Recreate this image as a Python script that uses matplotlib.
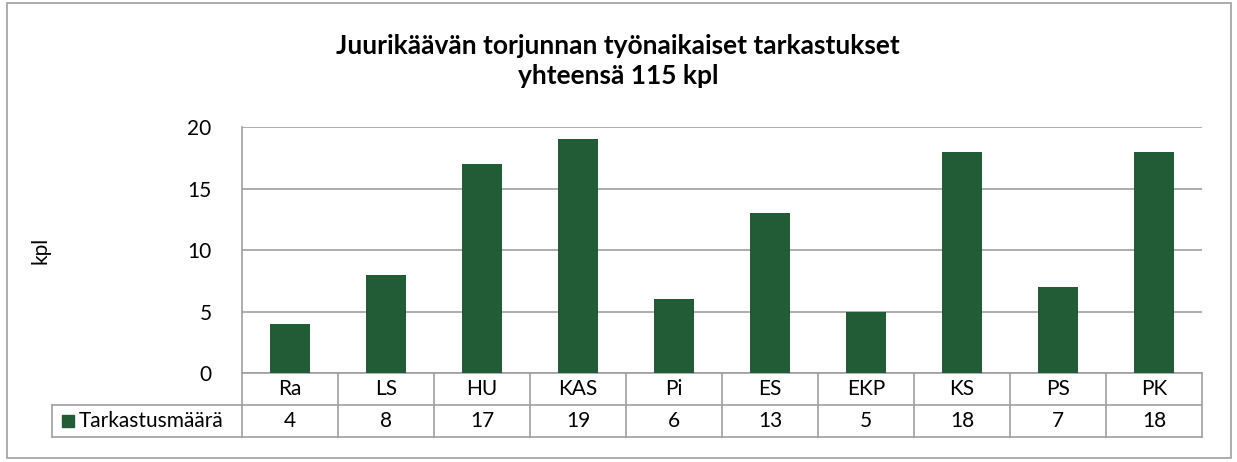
import matplotlib
matplotlib.use("Agg")
import matplotlib.pyplot as plt
from matplotlib.patches import Rectangle

# data
categories = ["Ra", "LS", "HU", "KAS", "Pi", "ES", "EKP", "KS", "PS", "PK"]
values = [4, 8, 17, 19, 6, 13, 5, 18, 7, 18]
series_name = "Tarkastusmäärä"
title = "Juurikäävän torjunnan työnaikaiset tarkastukset\nyhteensä 115 kpl"
y_ticks = [0, 5, 10, 15, 20]

plt.rcParams["font.family"] = ["Lato", "DejaVu Sans"]

W, H = 1237, 462
GRID = "#a0a0a0"
BAR = "#215c36"
FS = 15

fig = plt.figure(figsize=(W / 100, H / 100), dpi=100, facecolor="white")

# outer chart border
fig.add_artist(Rectangle((7 / W, 1 - 458 / H), (1231 - 7) / W, (458 - 3) / H,
                         transform=fig.transFigure, fill=False, edgecolor=GRID, lw=1.2))

left, right, top, bottom = 242, 1202, 127, 373
ax = fig.add_axes([left / W, 1 - bottom / H, (right - left) / W, (bottom - top) / H])

x = list(range(len(categories)))
ax.bar(x, values, width=0.41, color=BAR, zorder=3)
ax.set_xlim(-0.5, len(categories) - 0.5)
ax.set_ylim(0, 20)
ax.set_yticks(y_ticks)
ax.set_yticklabels([str(t) for t in y_ticks], fontsize=FS)
ax.tick_params(axis="y", length=0, pad=22)
ax.set_xticks([])
ax.yaxis.grid(True, color=GRID, lw=1.2, zorder=0)
ax.set_axisbelow(True)
for sp in ["top", "right"]:
    ax.spines[sp].set_visible(False)
for sp in ["left", "bottom"]:
    ax.spines[sp].set_color(GRID)
    ax.spines[sp].set_linewidth(1.2)

fig.text(40 / W, 1 - 250 / H, "kpl", rotation=90, ha="center", va="center", fontsize=FS)

# data table under the plot
tr = ax.get_xaxis_transform()
unit = (right - left) / len(categories)
row_h = 32 / (bottom - top)
label_x0 = -0.5 - (left - 52) / unit
n = len(categories)

kw = dict(color=GRID, lw=1.2, transform=tr, clip_on=False)
ax.plot([-0.5, n - 0.5], [-row_h, -row_h], **kw)
ax.plot([label_x0, -0.5], [-row_h, -row_h], **kw)
ax.plot([label_x0, n - 0.5], [-2 * row_h, -2 * row_h], **kw)
ax.plot([label_x0, label_x0], [-row_h, -2 * row_h], **kw)
for i in range(n + 1):
    ax.plot([i - 0.5, i - 0.5], [0, -2 * row_h], **kw)

for i, (c, v) in enumerate(zip(categories, values)):
    ax.text(i, -0.5 * row_h, c, transform=tr, ha="center", va="center", fontsize=FS)
    ax.text(i, -1.5 * row_h, str(v), transform=tr, ha="center", va="center", fontsize=FS)

ax.add_patch(Rectangle((label_x0 + 10 / unit, -1.5 * row_h - 6 / (bottom - top)),
                       12 / unit, 12 / (bottom - top), transform=tr,
                       color=BAR, clip_on=False))
ax.text(label_x0 + 27 / unit, -1.5 * row_h, series_name, transform=tr,
        ha="left", va="center", fontsize=FS)

fig.text(618 / W, 1 - 61 / H, title, ha="center", va="center",
         fontsize=19, fontweight="bold", linespacing=1.25)

fig.savefig("out.png", dpi=100, facecolor="white")
